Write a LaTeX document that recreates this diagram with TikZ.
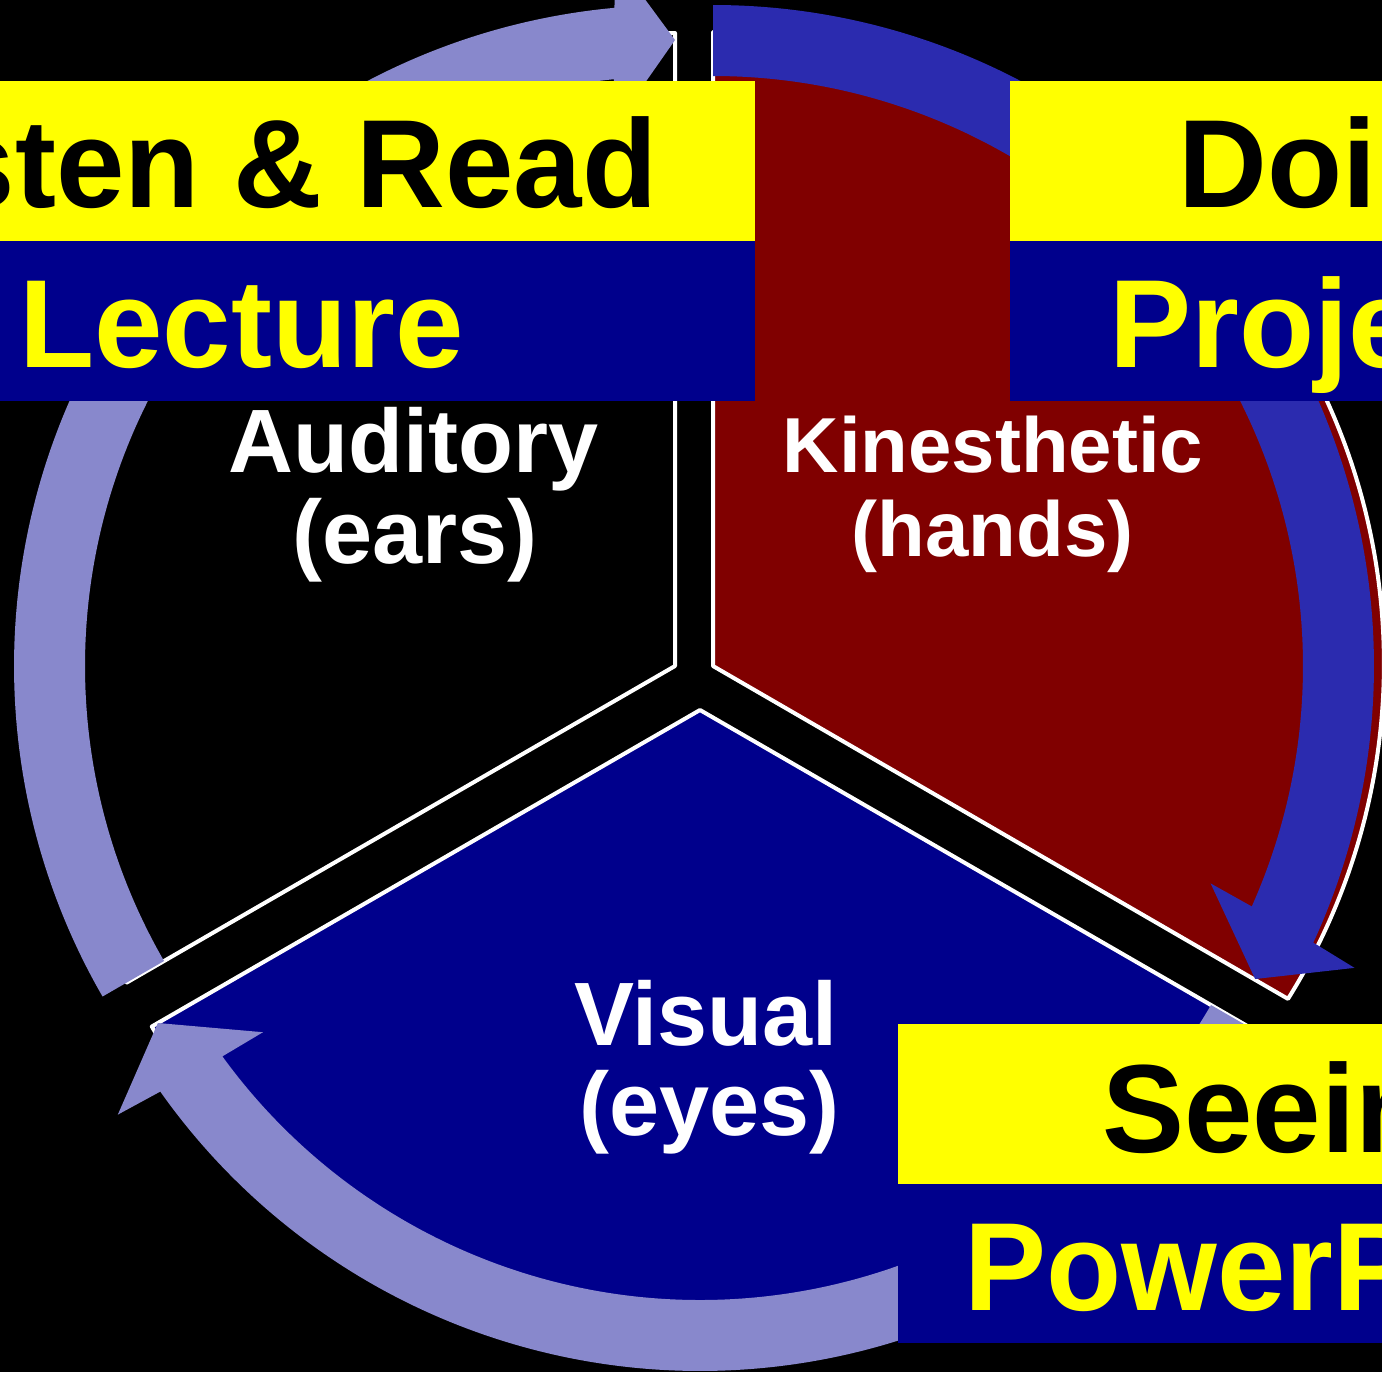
\documentclass[tikz,border=0pt]{standalone}
\usepackage{fontspec}
\setmainfont{Liberation Sans}
\usepackage{graphicx}
\definecolor{kin}{RGB}{128,0,0}
\definecolor{vis}{RGB}{0,0,140}
\definecolor{lav}{RGB}{136,136,204}
\definecolor{roy}{RGB}{43,43,175}
\definecolor{yel}{RGB}{255,255,0}
\begin{document}
\begin{tikzpicture}[x=0.5pt,y=-0.5pt,
  sector/.style={draw=white, line width=2pt, line join=round},
  boxtxt/.style={inner sep=0pt, font=\fontsize{61.5}{72}\selectfont\bfseries},
  lbl/.style={inner sep=0pt, text=white, anchor=base, font=\fontsize{45}{52}\selectfont\bfseries},
  lblsmall/.style={lbl, font=\fontsize{39}{46}\selectfont\bfseries}]
\useasboundingbox (0,0) rectangle (1382,1372);
\clip (0,0) rectangle (1382,1372);
\fill[black] (0,0) rectangle (1382,1372);

% sectors
\filldraw[sector, fill=black] (675,666) -- (675,33) arc[start angle=270, end angle=150, radius=633] -- cycle;
\filldraw[sector, fill=kin] (713,666) -- (713,32) arc[start angle=266.56, end angle=391.96, radius=633] -- cycle;
\filldraw[sector, fill=vis] (700,710) -- (1248.2,1026.5) arc[start angle=30, end angle=150, radius=633] -- cycle;

% cycle arrows
\begin{scope}[shift={(675,666)}]
\fill[lav] (150:590) arc[start angle=150, end angle=264.05, radius=590] -- (263.6:543) -- (270:626) -- (265.2:709) -- (264.74:661) arc[start angle=264.74, end angle=150, radius=661] -- cycle;
\end{scope}
\begin{scope}[shift={(713,666)}]
\fill[roy] (270:590) arc[start angle=270, end angle=384.05, radius=590] -- (383.6:543) -- (390:626) -- (385.2:709) -- (384.74:661) arc[start angle=384.74, end angle=270, radius=661] -- cycle;
\end{scope}
\begin{scope}[shift={(700,710)}]
\fill[lav] (30:590) arc[start angle=30, end angle=144.05, radius=590] -- (143.6:543) -- (150:626) -- (145.2:709) -- (144.74:661) arc[start angle=144.74, end angle=30, radius=661] -- cycle;
\end{scope}

% label boxes
\fill[yel] (-10,81) rectangle (755,241);
\fill[vis] (-10,241) rectangle (755,401);
\fill[yel] (1010,81) rectangle (1392,241);
\fill[vis] (1010,241) rectangle (1392,401);
\fill[yel] (898,1024) rectangle (1392,1184);
\fill[vis] (898,1184) rectangle (1392,1343);

\node[boxtxt, anchor=base east, text=black] (listen) at (658,207) {\scalebox{1}[1.02]{Listen \& Read}};
\node[boxtxt, anchor=base west, text=yel] (lecture) at (19,367) {\scalebox{1}[1.02]{Lecture}};
\node[boxtxt, anchor=base west, text=black] (doing) at (1178,207) {\scalebox{1}[1.02]{Doing}};
\node[boxtxt, anchor=base west, text=yel] (projects) at (1109,367) {\scalebox{1}[1.02]{Projects}};
\node[boxtxt, anchor=base west, text=black] (seeing) at (1102,1152) {\scalebox{1}[1.02]{Seeing}};
\node[boxtxt, anchor=base west, text=yel] (powerpoint) at (964,1310) {\scalebox{1}[1.02]{PowerPoint}};

% sector labels
\node[lbl] (aud) at (413.5,472) {Auditory};
\node[lbl] (ears) at (415,563) {(ears)};
\node[lblsmall] (kin) at (993,472) {Kinesthetic};
\node[lblsmall] (hands) at (992.5,556) {(hands)};
\node[lbl] (visual) at (706,1045) {Visual};
\node[lbl] (eyes) at (709.5,1135) {(eyes)};
\end{tikzpicture}
\end{document}
